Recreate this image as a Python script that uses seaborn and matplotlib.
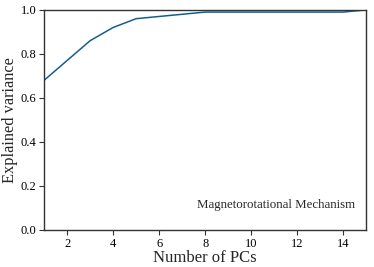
import numpy as np
import pandas as pd
import matplotlib
matplotlib.use("Agg")
import matplotlib.pyplot as plt
import seaborn as sns

# Data
n_pcs = [1, 2, 3, 4, 5, 6, 7, 8, 9, 10, 11, 12, 13, 14, 15]
explained = [0.68, 0.77, 0.86, 0.92, 0.96, 0.97, 0.98, 0.99, 0.99, 0.99, 0.99, 0.99, 0.99, 0.99, 1.0]
label_text = "Magnetorotational Mechanism"

sns.set_style("ticks")
plt.rcParams['font.family'] = ['Liberation Serif', 'DejaVu Serif']

df = pd.DataFrame({"pcs": n_pcs, "var": explained})

fig, ax = plt.subplots(figsize=(3.74, 2.67), dpi=100)
sns.lineplot(data=df, x="pcs", y="var", ax=ax, color="#145e8e", linewidth=1.1)

ax.set_xlim(1, 15)
ax.set_ylim(0, 1.0)
ax.set_xticks([2, 4, 6, 8, 10, 12, 14])
ax.set_yticks([0.0, 0.2, 0.4, 0.6, 0.8, 1.0])
ax.set_xlabel("Number of PCs", fontsize=12, labelpad=0)
ax.set_ylabel("Explained variance", fontsize=11.8, labelpad=2)
ax.tick_params(labelsize=9, length=3.5, width=0.8, colors="#333333", labelcolor="black", pad=2)
for s in ax.spines.values():
    s.set_color("#333333")
    s.set_linewidth(1.0)

ax.text(0.965, 0.115, label_text, transform=ax.transAxes, ha="right", va="center", fontsize=9.3)

fig.subplots_adjust(left=0.118, right=0.979, top=0.963, bottom=0.139)
fig.savefig("out.png", dpi=100)
